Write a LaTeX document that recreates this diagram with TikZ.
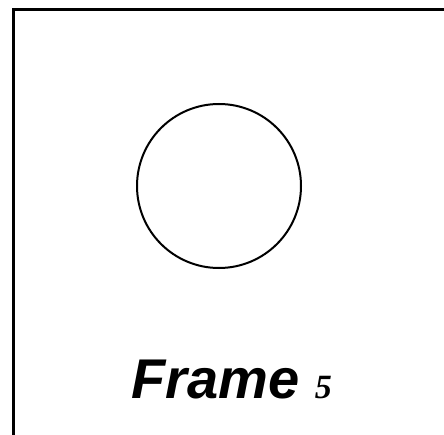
\documentclass[tikz,border=0pt]{standalone}
\usepackage{fontspec}
\setmainfont{Liberation Sans}
\newfontfamily\numfont{Liberation Serif}
\usetikzlibrary{positioning}

\begin{document}
\begin{tikzpicture}[x=1pt, y=1pt,
  framebox/.style={draw=black, line width=3pt},
  ball/.style={circle, draw=black, line width=2pt, minimum size=164pt, inner sep=0pt},
  caption/.style={font=\fontsize{56}{60}\selectfont\bfseries\itshape, inner sep=0pt, anchor=base west}
]
\useasboundingbox (0,0) rectangle (444,434);
\clip (0,0) rectangle (444,434);
% outer frame, cut by the page edge
\draw[framebox] (13.5,-20) rectangle (470,424.5);
\node[ball] (disc) at (219,248) {};
\node[caption] (title) at (131,36) {Frame {\numfont\fontsize{34}{36}\selectfont 5}};
\end{tikzpicture}
\end{document}
